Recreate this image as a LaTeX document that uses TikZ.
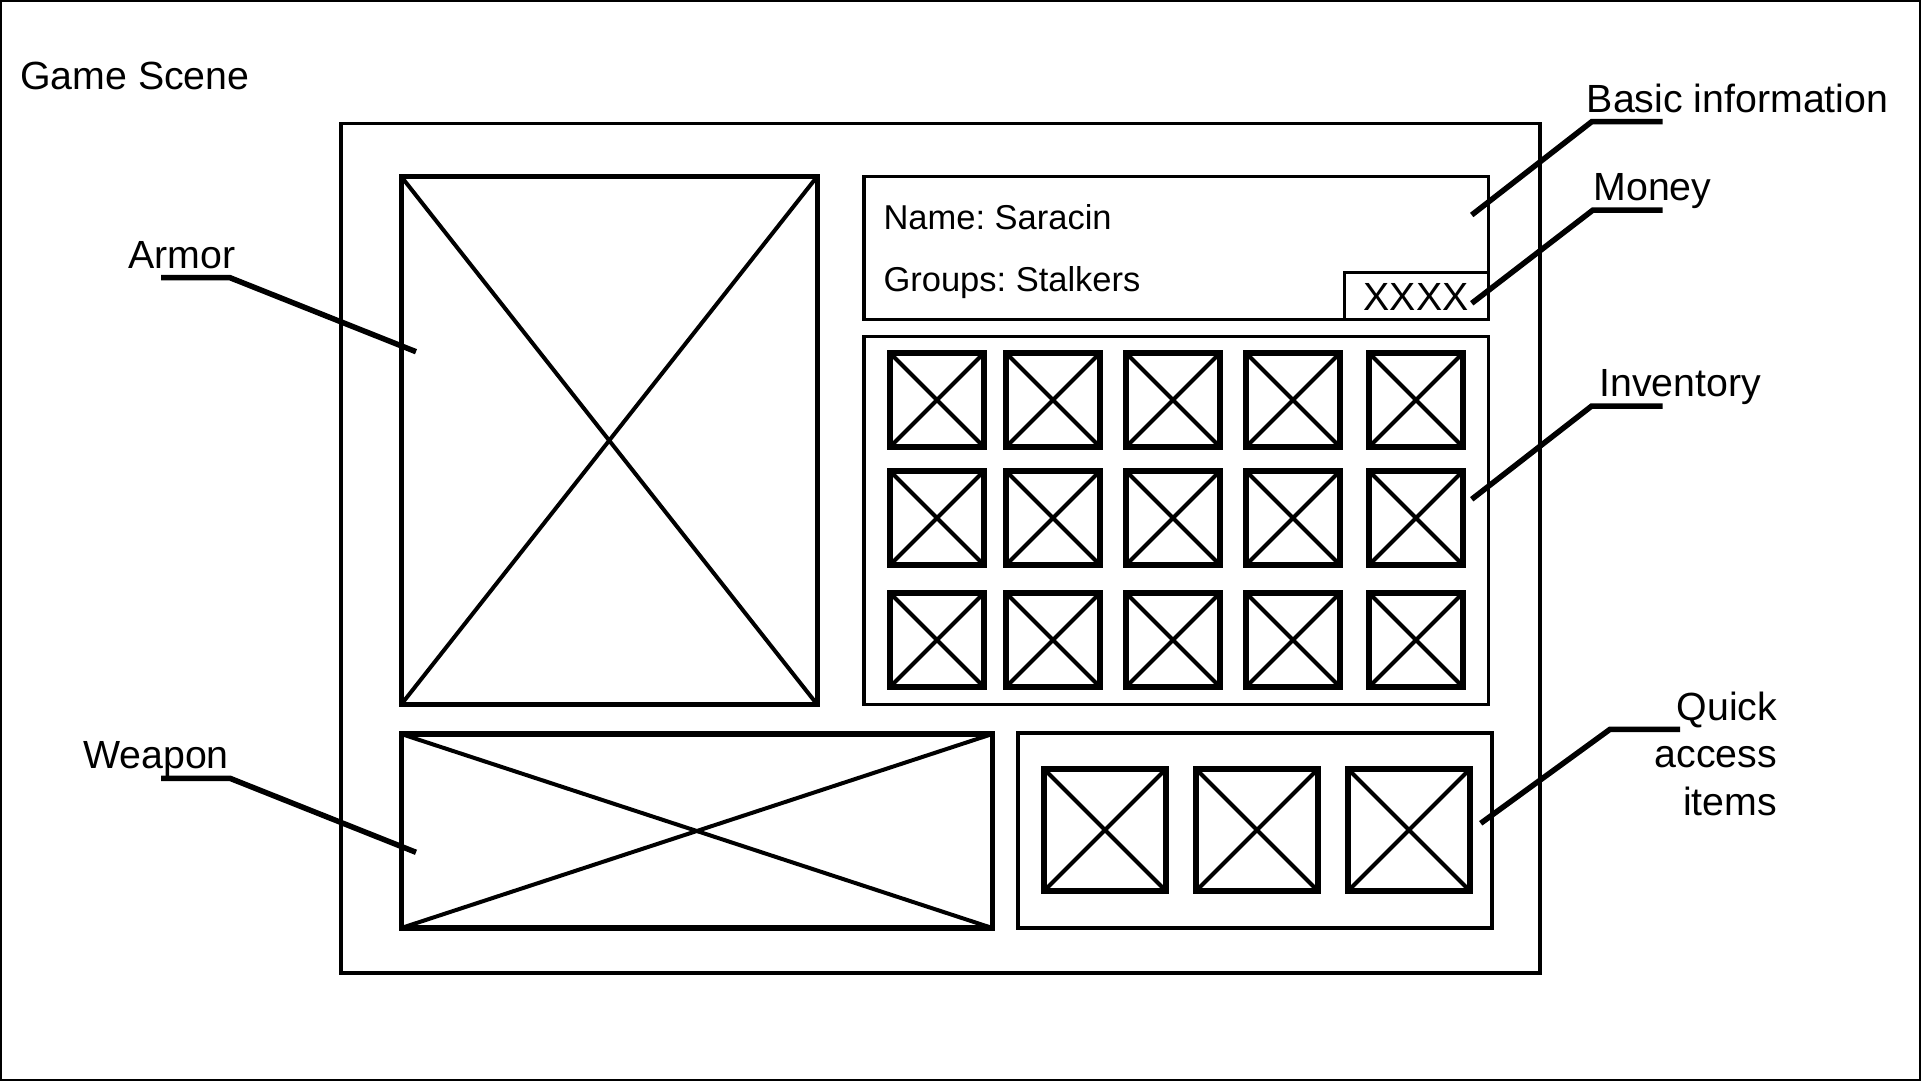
\documentclass[tikz,border=0pt]{standalone}
\usepackage{fontspec}
\setmainfont{Liberation Sans}
\frenchspacing
\begin{document}
\begin{tikzpicture}[x = 1pt, y = -1pt,
    panel/.style  = {draw, line width = 3.6pt, inner sep = 0pt, outer sep = 0pt},
    frame/.style  = {draw, line width = 3.3pt, inner sep = 0pt, outer sep = 0pt},
    pic/.style    = {draw, line width = 5.3pt, inner sep = 0pt, outer sep = 0pt},
    slot/.style   = {draw, line width = 5.4pt, inner sep = 0pt, outer sep = 0pt, minimum size = #1},
    cross/.style  = {line width = 4pt},
    leader/.style = {line width = 5.5pt},
    label/.style  = {inner sep = 0pt, font = \fontsize{39.3}{47.8}\selectfont},
    info/.style   = {inner sep = 0pt, anchor = base west, font = \fontsize{34.5}{41}\selectfont}]
        \useasboundingbox (0,0) rectangle (1921,1081);
        \draw[line width = 2pt] (1,1) rectangle (1920,1080);

        \node[label, anchor = base west] (scene) at (20,89.3) {Game Scene};

        \node[panel, minimum width = 1199pt, minimum height = 849.5pt] (main) at (940.5,548.25) {};

        \node[pic, minimum width = 416pt, minimum height = 528pt] (armor)  at (609.2,440.5) {};
        \node[pic, minimum width = 591pt, minimum height = 194pt] (weapon) at (696.8,831) {};
        \draw[cross] (armor.north west)  -- (armor.south east)  (armor.north east)  -- (armor.south west);
        \draw[cross] (weapon.north west) -- (weapon.south east) (weapon.north east) -- (weapon.south west);

        \node[frame, minimum width = 624.3pt, minimum height = 142.6pt] (basic) at (1176.15,248) {};
        \node[frame, minimum width = 144pt, minimum height = 47.1pt] (money) at (1416.3,295.75) {};
        \node[info] (name)  at (883.3,229.3) {Name: Saracin};
        \node[info] (group) at (883.3,291.7) {Groups: Stalkers};
        \node[label, anchor = base] (cash) at (1416,310) {XXXX};

        \node[frame, minimum width = 624.3pt, minimum height = 367.7pt] (inventory) at (1176.15,520.5) {};
        \foreach \c/\x in {1/937, 2/1053, 3/1173, 4/1293, 5/1416}
          \foreach \r/\y in {1/400, 2/518, 3/640} {
            \node[slot = 94pt] (inv-\r-\c) at (\x,\y) {};
            \draw[cross] (inv-\r-\c.north west) -- (inv-\r-\c.south east)
                         (inv-\r-\c.north east) -- (inv-\r-\c.south west);
          }

        \node[frame, minimum width = 474pt, minimum height = 195pt] (quick) at (1255,830.5) {};
        \foreach \c/\x in {1/1105, 2/1257, 3/1409} {
            \node[slot = 122pt] (qa-\c) at (\x,830) {};
            \draw[cross] (qa-\c.north west) -- (qa-\c.south east)
                         (qa-\c.north east) -- (qa-\c.south west);
          }

        \node[label, anchor = base west] (armorlbl)  at (128,268.3)    {Armor};
        \node[label, anchor = base west] (weaponlbl) at (83,768.3)     {Weapon};
        \node[label, anchor = base west] (basiclbl)  at (1586.7,112.3) {Basic information};
        \node[label, anchor = base west] (moneylbl)  at (1593.3,200)   {Money};
        \node[label, anchor = base west] (invlbl)    at (1599.3,396.7) {Inventory};
        \node[label, anchor = base east, align = right] (quicklbl) at (1777.3,815.7) {Quick\\access\\items};

        \coordinate (armor-a)  at (161,277.7);
        \coordinate (armor-b)  at (230,277.7);
        \coordinate (armor-t)  at (416,351.7);
        \coordinate (weapon-a) at (161,778.3);
        \coordinate (weapon-b) at (230,778.3);
        \coordinate (weapon-t) at (416,852.3);
        \coordinate (basic-a)  at (1662.7,121.7);
        \coordinate (basic-b)  at (1591.7,121.7);
        \coordinate (basic-t)  at (1471.7,215);
        \coordinate (money-a)  at (1662.7,210);
        \coordinate (money-b)  at (1593,210);
        \coordinate (money-t)  at (1471.7,303.3);
        \coordinate (inv-a)    at (1662.7,406);
        \coordinate (inv-b)    at (1591.7,406);
        \coordinate (inv-t)    at (1471.7,499.3);
        \coordinate (quick-a)  at (1680,729.3);
        \coordinate (quick-b)  at (1610,729.3);
        \coordinate (quick-t)  at (1480.7,823.3);

        \draw[leader] (armor-a)  -- (armor-b)  -- (armor-t);
        \draw[leader] (weapon-a) -- (weapon-b) -- (weapon-t);
        \draw[leader] (basic-a)  -- (basic-b)  -- (basic-t);
        \draw[leader] (money-a)  -- (money-b)  -- (money-t);
        \draw[leader] (inv-a)    -- (inv-b)    -- (inv-t);
        \draw[leader] (quick-a)  -- (quick-b)  -- (quick-t);
\end{tikzpicture}
\end{document}
